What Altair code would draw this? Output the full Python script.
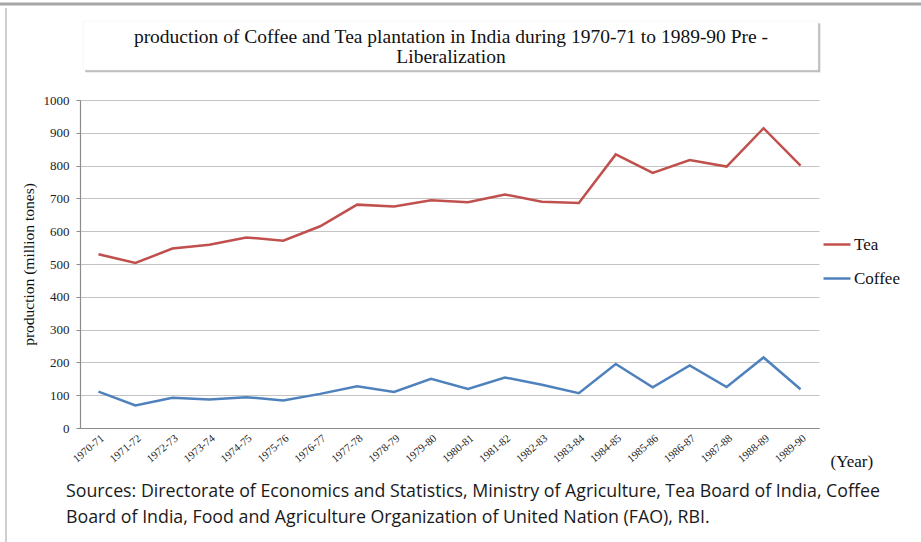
import altair as alt
import pandas as pd

# Crop years (x categories)
years = [
    "1970-71", "1971-72", "1972-73", "1973-74", "1974-75", "1975-76", "1976-77",
    "1977-78", "1978-79", "1979-80", "1980-81", "1981-82", "1982-83", "1983-84",
    "1984-85", "1985-86", "1986-87", "1987-88", "1988-89", "1989-90",
]

# Production (million tones)
tea = [530, 503, 547, 559, 581, 571, 615, 681, 675, 694,
       688, 712, 690, 686, 834, 778, 817, 797, 914, 800]
coffee = [111, 69, 92, 87, 94, 84, 104, 127, 110, 150,
          119, 154, 132, 106, 195, 124, 191, 125, 215, 118]

series_names = ["Tea", "Coffee"]
series_colors = ["#C0504D", "#4F81BD"]

title_lines = [
    "production of Coffee and Tea plantation in India during 1970-71 to 1989-90 Pre -",
    "Liberalization",
]
source_lines = [
    "Sources:  Directorate of Economics and Statistics, Ministry of Agriculture, Tea Board of India, Coffee",
    "Board of India, Food and Agriculture Organization of United Nation (FAO), RBI.",
]

rows = []
for name, vals in zip(series_names, [tea, coffee]):
    for y, v in zip(years, vals):
        rows.append({"year": y, "series": name, "production": v})
df = pd.DataFrame(rows)

SERIF = "Liberation Serif"
W, H = 739, 328
one = alt.Data(values=[{}])

# Page frame
frame_top = alt.Chart(one).mark_rule(color="#a6a6a6", strokeWidth=3).encode(
    x=alt.value(-80), x2=alt.value(W + 110), y=alt.value(-96)
)
frame_left = alt.Chart(one).mark_rule(color="#cfcfcf", strokeWidth=2).encode(
    x=alt.value(-74), y=alt.value(-92), y2=alt.value(H + 114)
)

# Title box with a soft drop shadow (bottom / right)
shadow2 = alt.Chart(one).mark_rect(color="#000000", opacity=0.07).encode(
    x=alt.value(6), x2=alt.value(741), y=alt.value(-76), y2=alt.value(-27)
)
shadow1 = alt.Chart(one).mark_rect(color="#000000", opacity=0.2).encode(
    x=alt.value(5), x2=alt.value(740), y=alt.value(-77), y2=alt.value(-28)
)
box = alt.Chart(one).mark_rect(color="#ffffff", stroke="#ececec", strokeWidth=0.5).encode(
    x=alt.value(3), x2=alt.value(738), y=alt.value(-79), y2=alt.value(-30)
)
# Two-line title; y is the centre of the first line
title = alt.Chart(one).mark_text(
    text=title_lines, font=SERIF, fontSize=19.5, lineHeight=20,
    align="center", baseline="middle", color="#111111",
).encode(x=alt.value(371), y=alt.value(-63))

sources = alt.Chart(one).mark_text(
    text=source_lines, font="Open Sans", fontSize=17.8, lineHeight=26,
    align="left", baseline="alphabetic", color="#1a1a1a",
).encode(x=alt.value(-14), y=alt.value(397))

lines = alt.Chart(df).mark_line(strokeWidth=2.5).encode(
    x=alt.X(
        "year:N", sort=years,
        axis=alt.Axis(
            title="(Year)", titleX=750, titleY=38, titleAlign="left",
            titleBaseline="alphabetic", titleFont=SERIF, titleFontSize=17,
            titleFontWeight="normal", titleColor="#111111",
            labelAngle=320, labelFont=SERIF, labelFontSize=11,
            labelColor="#222222", labelPadding=4, ticks=False,
            domainColor="#8c8c8c", domainWidth=1.2, grid=False,
        ),
    ),
    y=alt.Y(
        "production:Q",
        scale=alt.Scale(domain=[0, 1000], nice=False),
        axis=alt.Axis(
            title="production (million tones)", titleFont=SERIF,
            titleFontSize=15.5, titleFontWeight="normal", titleColor="#111111",
            titleAngle=270, titleX=-52, titleY=164, titleAlign="center",
            titleBaseline="middle", format="d",
            values=list(range(0, 1001, 100)), labelFont=SERIF,
            labelFontSize=13, labelColor="#222222", labelPadding=7,
            tickSize=4, tickColor="#8c8c8c", domainColor="#8c8c8c",
            domainWidth=1.2, gridColor="#c4c4c4", gridWidth=1.2,
        ),
    ),
    color=alt.Color(
        "series:N",
        scale=alt.Scale(domain=series_names, range=series_colors),
        legend=alt.Legend(
            title=None, orient="none", legendX=742, legendY=129.5,
            symbolType="stroke", symbolSize=729, symbolStrokeWidth=2.5,
            labelFont=SERIF, labelFontSize=17, labelColor="#111111",
            labelOffset=2, rowPadding=11, padding=0,
        ),
    ),
)

chart = alt.layer(
    frame_top, frame_left, shadow2, shadow1, box, title, sources, lines
).properties(
    width=W, height=H,
    autosize=alt.AutoSizeParams(type="none"),
    padding={"left": 80, "top": 100, "right": 102, "bottom": 114},
    background="#ffffff",
).configure_view(stroke=None)

chart.save("out.html", embed_options={"renderer": "svg", "actions": False})
